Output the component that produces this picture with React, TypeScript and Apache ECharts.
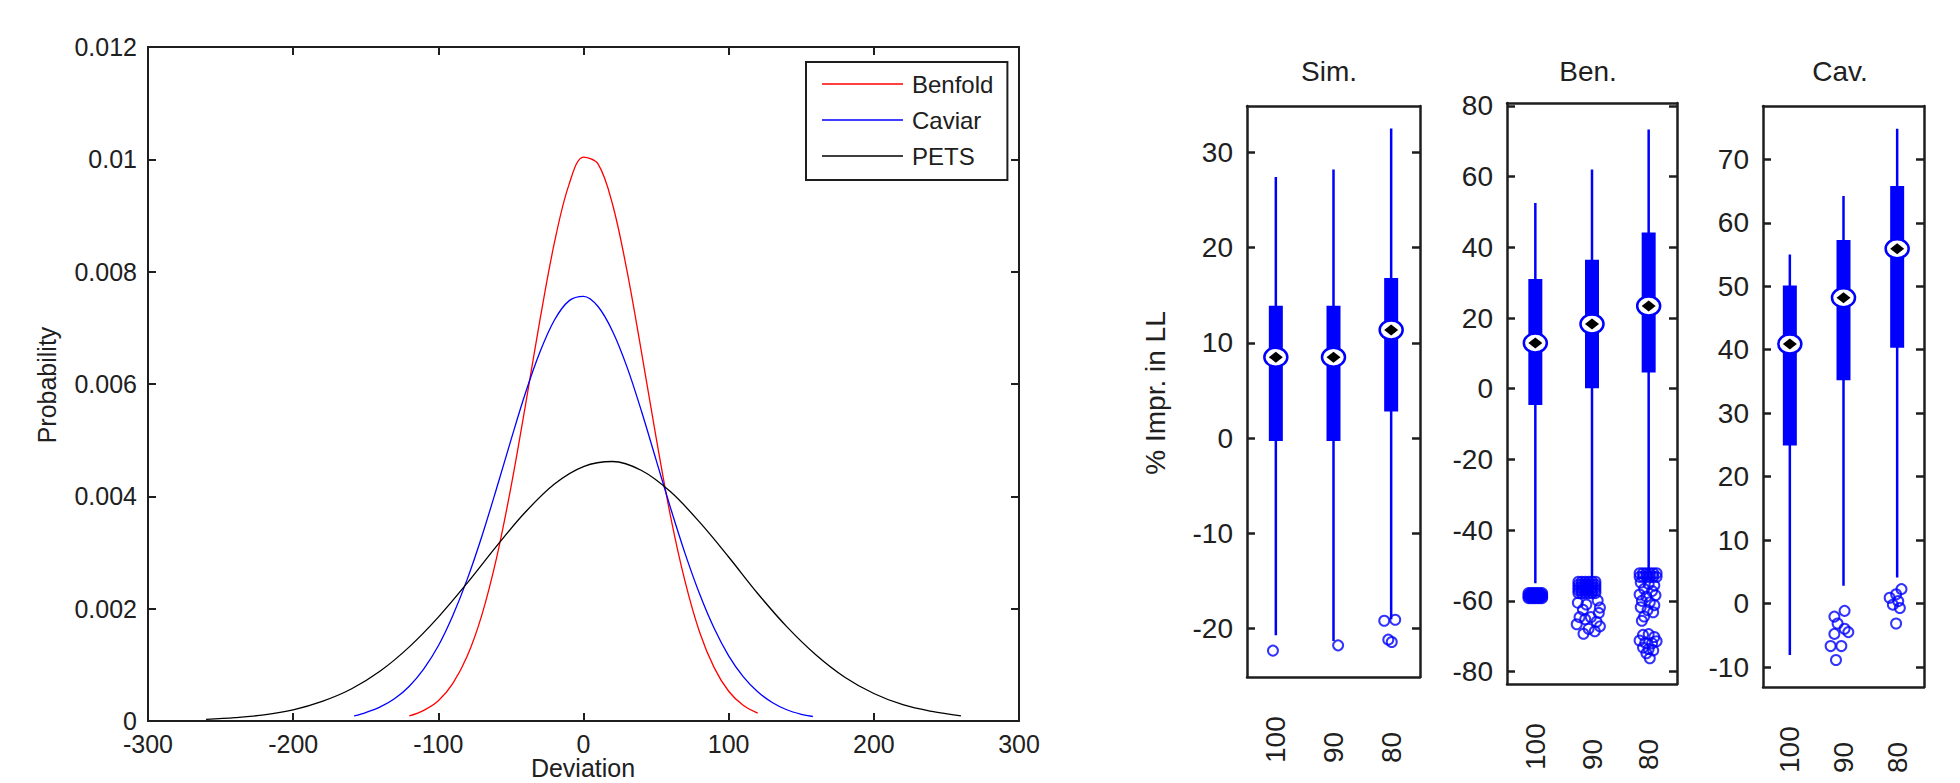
import React, { useEffect, useRef } from 'react';
import * as echarts from 'echarts';

// ---------- Left chart data ----------
const devTicks = [-300, -200, -100, 0, 100, 200, 300];
const probTicks = [0, 0.002, 0.004, 0.006, 0.008, 0.01, 0.012];
const seriesNames = ['Benfold', 'Caviar', 'PETS'];

const benfoldX = [-120, -110, -100, -90, -80, -70, -60, -50, -40, -30, -20, -10, 0, 10, 20, 30, 40, 50, 60, 70, 80, 90, 100, 110, 120];
const benfoldY = [0.00009, 0.00019, 0.00036, 0.00067, 0.00116, 0.00189, 0.00289, 0.00416, 0.00562, 0.00714, 0.00852, 0.00955, 0.01004, 0.00992, 0.0092, 0.00801, 0.00656, 0.00505, 0.00364, 0.00248, 0.00158, 0.00095, 0.00053, 0.00028, 0.00014];

const caviarX = [-158, -150, -140, -130, -120, -110, -100, -90, -80, -70, -60, -50, -40, -30, -20, -10, 0, 10, 20, 30, 40, 50, 60, 70, 80, 90, 100, 110, 120, 130, 140, 150, 158];
const caviarY = [0.00009, 0.00015, 0.00025, 0.0004, 0.00062, 0.00093, 0.00134, 0.00188, 0.00253, 0.00329, 0.00413, 0.005, 0.00584, 0.00657, 0.00714, 0.00748, 0.00756, 0.00738, 0.00694, 0.0063, 0.00551, 0.00465, 0.00379, 0.00298, 0.00226, 0.00165, 0.00116, 0.00079, 0.00052, 0.00033, 0.0002, 0.00012, 0.00008];

const petsX = [-260, -240, -220, -200, -180, -160, -140, -120, -100, -80, -60, -40, -20, 0, 20, 40, 60, 80, 100, 120, 140, 160, 180, 200, 220, 240, 260];
const petsY = [0.00003, 0.00006, 0.00011, 0.0002, 0.00035, 0.00057, 0.00089, 0.00132, 0.00185, 0.00246, 0.00311, 0.00372, 0.00422, 0.00453, 0.00462, 0.00446, 0.00408, 0.00354, 0.00292, 0.00227, 0.00168, 0.00118, 0.00078, 0.00049, 0.00029, 0.00017, 0.00009];

// ---------- Right panels data ----------
const panelTitles = ['Sim.', 'Ben.', 'Cav.'];
const groupLabels = ['100', '90', '80'];

// [whisker low, q1, median, q3, whisker high]
const simBoxes = [
  [-20.7, -0.3, 8.5, 13.9, 27.4],
  [-21.3, -0.3, 8.5, 13.9, 28.2],
  [-19.0, 2.8, 11.35, 16.8, 32.5],
];
const benBoxes = [
  [-55.0, -4.6, 12.9, 31.0, 52.5],
  [-53.5, 0.1, 18.3, 36.5, 62.0],
  [-52.0, 4.6, 23.4, 44.2, 73.3],
];
const cavBoxes = [
  [-8.1, 24.9, 40.9, 50.1, 55.0],
  [2.8, 35.2, 48.2, 57.3, 64.2],
  [4.1, 40.3, 55.9, 65.8, 74.8],
];

// outliers: [group position (with jitter), value]
const simOutliers = [
  [0.95, -22.3], [2.08, -21.75],
  [2.88, -19.16], [3.07, -19.06], [2.95, -21.15], [3.01, -21.4],
];
const benOutliers = [
  // group 100: dense band
  [0.88, -57.8], [0.92, -57.8], [0.96, -57.8], [1.0, -57.8], [1.04, -57.8], [1.08, -57.8], [1.12, -57.8],
  [0.88, -58.3], [0.92, -58.3], [0.96, -58.3], [1.0, -58.3], [1.04, -58.3], [1.08, -58.3], [1.12, -58.3],
  [0.88, -58.8], [0.92, -58.8], [0.96, -58.8], [1.0, -58.8], [1.04, -58.8], [1.08, -58.8], [1.12, -58.8],
  [0.88, -59.2], [0.92, -59.2], [0.96, -59.2], [1.0, -59.2], [1.04, -59.2], [1.08, -59.2], [1.12, -59.2],
  // group 90: dense block + scatter
  [1.76, -54.6], [1.82, -54.6], [1.88, -54.6], [1.94, -54.6], [2.0, -54.6], [2.06, -54.6],
  [1.76, -55.4], [1.82, -55.4], [1.88, -55.4], [1.94, -55.4], [2.0, -55.4], [2.06, -55.4],
  [1.76, -56.2], [1.82, -56.2], [1.88, -56.2], [1.94, -56.2], [2.0, -56.2], [2.06, -56.2],
  [1.76, -57.0], [1.82, -57.0], [1.88, -57.0], [1.94, -57.0], [2.0, -57.0], [2.06, -57.0],
  [1.76, -57.8], [1.82, -57.8], [1.88, -57.8], [1.94, -57.8], [2.0, -57.8], [2.06, -57.8],
  [2.1, -59.9], [2.14, -61.9], [1.75, -60.5], [1.9, -61.0], [1.84, -62.5], [2.12, -63.4],
  [1.78, -64.6], [1.98, -64.6], [2.08, -65.9], [1.73, -66.6], [1.94, -67.9], [2.05, -68.6],
  [1.85, -69.3], [2.14, -67.2], [1.88, -65.2],
  // group 80: top band, scatter, lower cluster
  [2.84, -52.2], [2.9, -52.2], [2.96, -52.2], [3.02, -52.2], [3.08, -52.2], [3.14, -52.2],
  [2.84, -53.2], [2.9, -53.2], [2.96, -53.2], [3.02, -53.2], [3.08, -53.2], [3.14, -53.2],
  [2.86, -54.8], [3.0, -55.2], [3.1, -55.6], [2.92, -56.6], [3.06, -57.2], [2.84, -58.2],
  [2.96, -58.8], [3.12, -58.4], [2.88, -60.0], [3.02, -60.4], [3.1, -61.2], [2.86, -61.8],
  [2.98, -62.6], [3.08, -63.2], [2.92, -64.4], [2.88, -65.6],
  [2.9, -69.6], [3.0, -69.4], [3.1, -70.2], [2.84, -71.2], [2.94, -71.8], [3.06, -72.0],
  [3.14, -71.4], [2.9, -73.2], [3.0, -73.6], [3.08, -74.0], [2.96, -74.8], [3.02, -76.2],
];
const cavOutliers = [
  [2.02, -1.15], [1.83, -2.06], [1.89, -3.15], [2.02, -3.97], [2.09, -4.5],
  [1.83, -4.78], [1.76, -6.7], [1.96, -6.7], [1.86, -8.9],
  [3.08, 2.27], [2.98, 1.46], [2.86, 0.91], [3.02, 0.38], [3.05, -0.71],
  [2.98, -3.15], [2.92, -0.17],
];

const simTicks = [-20, -10, 0, 10, 20, 30];
const benTicks = [-80, -60, -40, -20, 0, 20, 40, 60, 80];
const cavTicks = [-10, 0, 10, 20, 30, 40, 50, 60, 70];
const simRange = [-25.07, 34.86];
const benRange = [-83.5, 80.8];
const cavRange = [-13.15, 78.4];

const FONT = "'Liberation Sans', Arial, Helvetica, sans-serif";
const AXIS = '#1e1e1e';
const TEXT = '#202020';
const BLUE = '#0000ff';

const boxRender = (params: any, api: any) => {
  const x = api.value(0);
  const pLow = api.coord([x, api.value(1)]);
  const pQ1 = api.coord([x, api.value(2)]);
  const pMed = api.coord([x, api.value(3)]);
  const pQ3 = api.coord([x, api.value(4)]);
  const pHigh = api.coord([x, api.value(5)]);
  const cx = pLow[0];
  const my = pMed[1];
  return {
    type: 'group',
    children: [
      { type: 'line', shape: { x1: cx, y1: pHigh[1], x2: cx, y2: pLow[1] }, style: { stroke: BLUE, lineWidth: 2.5 } },
      { type: 'rect', shape: { x: cx - 7, y: pQ3[1], width: 14, height: pQ1[1] - pQ3[1] }, style: { fill: BLUE } },
      { type: 'ellipse', shape: { cx, cy: my, rx: 11.5, ry: 9.5 }, style: { fill: '#ffffff', stroke: BLUE, lineWidth: 2.5 } },
      { type: 'polygon', shape: { points: [[cx - 7, my], [cx, my - 5.5], [cx + 7, my], [cx, my + 5.5]] }, style: { fill: '#000000' } },
    ],
  };
};

export default function App() {
  const ref = useRef<HTMLDivElement>(null);
  useEffect(() => {
    if (!ref.current) return;
    const chart = echarts.init(ref.current, null, { renderer: 'svg' });

    const grids = [
      { left: 148, top: 47, width: 871, height: 674 },
      { left: 1247, top: 106, width: 173, height: 571 },
      { left: 1507, top: 103, width: 170, height: 581 },
      { left: 1763, top: 106, width: 161, height: 581 },
    ];
    const panelBoxes = [simBoxes, benBoxes, cavBoxes];
    const panelOutliers = [simOutliers, benOutliers, cavOutliers];
    const panelTicks = [simTicks, benTicks, cavTicks];
    const panelRanges = [simRange, benRange, cavRange];

    const xAxes: any[] = [
      {
        gridIndex: 0, type: 'value', position: 'bottom', min: -300, max: 300,
        axisLine: { onZero: false, lineStyle: { color: AXIS, width: 2 } },
        axisTick: { inside: true, length: 8, customValues: devTicks, lineStyle: { color: AXIS, width: 2 } },
        axisLabel: { customValues: devTicks, fontSize: 25, fontFamily: FONT, color: TEXT, margin: 10 },
        splitLine: { show: false },
      },
      {
        gridIndex: 0, type: 'value', position: 'top', min: -300, max: 300,
        axisLine: { onZero: false, lineStyle: { color: AXIS, width: 2 } },
        axisTick: { inside: true, length: 8, customValues: devTicks, lineStyle: { color: AXIS, width: 2 } },
        axisLabel: { show: false },
        splitLine: { show: false },
      },
    ];
    const yAxes: any[] = [
      {
        gridIndex: 0, type: 'value', position: 'left', min: 0, max: 0.012,
        axisLine: { onZero: false, lineStyle: { color: AXIS, width: 2 } },
        axisTick: { inside: true, length: 8, customValues: probTicks, lineStyle: { color: AXIS, width: 2 } },
        axisLabel: { customValues: probTicks, fontSize: 25, fontFamily: FONT, color: TEXT, margin: 11, formatter: (v: number) => String(+v.toFixed(4)) },
        splitLine: { show: false },
      },
      {
        gridIndex: 0, type: 'value', position: 'right', min: 0, max: 0.012,
        axisLine: { onZero: false, lineStyle: { color: AXIS, width: 2 } },
        axisTick: { inside: true, length: 8, customValues: probTicks, lineStyle: { color: AXIS, width: 2 } },
        axisLabel: { show: false },
        splitLine: { show: false },
      },
    ];

    const lineCommon = { type: 'line', xAxisIndex: 0, yAxisIndex: 0, symbol: 'none', smooth: 0.35, silent: true };
    const series: any[] = [
      { ...lineCommon, name: seriesNames[0], lineStyle: { color: '#ff0000', width: 1.3 }, itemStyle: { color: '#ff0000' }, data: benfoldX.map((x, i) => [x, benfoldY[i]]) },
      { ...lineCommon, name: seriesNames[1], lineStyle: { color: '#0000ff', width: 1.3 }, itemStyle: { color: '#0000ff' }, data: caviarX.map((x, i) => [x, caviarY[i]]) },
      { ...lineCommon, name: seriesNames[2], lineStyle: { color: '#000000', width: 1.3 }, itemStyle: { color: '#000000' }, data: petsX.map((x, i) => [x, petsY[i]]) },
    ];

    for (let p = 0; p < 3; p++) {
      const g = p + 1;
      xAxes.push({
        gridIndex: g, type: 'value', position: 'bottom', min: 0.5, max: 3.5,
        axisLine: { onZero: false, lineStyle: { color: AXIS, width: 2.5 } },
        axisTick: { show: false },
        axisLabel: {
          customValues: [1, 2, 3],
          formatter: (v: number) => groupLabels[Math.round(v) - 1],
          rotate: 90, align: 'left', verticalAlign: 'middle', margin: 86,
          fontSize: 28, fontFamily: FONT, color: TEXT,
        },
        splitLine: { show: false },
      });
      xAxes.push({
        gridIndex: g, type: 'value', position: 'top', min: 0.5, max: 3.5,
        axisLine: { onZero: false, lineStyle: { color: AXIS, width: 2.5 } },
        axisTick: { show: false }, axisLabel: { show: false }, splitLine: { show: false },
      });
      const ticks = panelTicks[p];
      const range = panelRanges[p];
      yAxes.push({
        gridIndex: g, type: 'value', position: 'left', min: range[0], max: range[1],
        axisLine: { onZero: false, lineStyle: { color: AXIS, width: 2.5 } },
        axisTick: { inside: true, length: 8, customValues: ticks, lineStyle: { color: AXIS, width: 2.5 } },
        axisLabel: { customValues: ticks, fontSize: 28, fontFamily: FONT, color: TEXT, margin: 14 },
        splitLine: { show: false },
      });
      yAxes.push({
        gridIndex: g, type: 'value', position: 'right', min: range[0], max: range[1],
        axisLine: { onZero: false, lineStyle: { color: AXIS, width: 2.5 } },
        axisTick: { inside: true, length: 8, customValues: ticks, lineStyle: { color: AXIS, width: 2.5 } },
        axisLabel: { show: false },
        splitLine: { show: false },
      });
      series.push({
        type: 'custom', xAxisIndex: 2 * g, yAxisIndex: 2 * g,
        renderItem: boxRender,
        encode: { x: 0, y: [1, 2, 3, 4, 5] },
        data: panelBoxes[p].map((b, i) => [i + 1, ...b]),
        silent: true,
      });
      series.push({
        type: 'scatter', xAxisIndex: 2 * g, yAxisIndex: 2 * g,
        symbol: 'circle', symbolSize: 10,
        itemStyle: { color: 'rgba(255,255,255,0)', borderColor: BLUE, borderWidth: 2 },
        data: panelOutliers[p],
        silent: true,
      });
    }

    const titleCenters = [1329, 1588, 1840];
    const graphic: any[] = [
      { type: 'text', x: 583, y: 768, style: { text: 'Deviation', fontSize: 25, fontFamily: FONT, fill: TEXT, align: 'center', verticalAlign: 'middle' } },
      { type: 'text', x: 47, y: 385, rotation: Math.PI / 2, style: { text: 'Probability', fontSize: 25, fontFamily: FONT, fill: TEXT, align: 'center', verticalAlign: 'middle' } },
      { type: 'text', x: 1155, y: 393, rotation: Math.PI / 2, style: { text: '% Impr. in LL', fontSize: 28, fontFamily: FONT, fill: TEXT, align: 'center', verticalAlign: 'middle' } },
      ...panelTitles.map((t, i) => ({ type: 'text', x: titleCenters[i], y: 71, style: { text: t, fontSize: 28, fontFamily: FONT, fill: TEXT, align: 'center', verticalAlign: 'middle' } })),
    ];

    chart.setOption({
      animation: false,
      backgroundColor: '#ffffff',
      grid: grids,
      xAxis: xAxes,
      yAxis: yAxes,
      legend: {
        data: seriesNames,
        orient: 'vertical',
        left: 806,
        top: 62,
        icon: 'rect',
        itemWidth: 81,
        itemHeight: 1.6,
        itemGap: 10,
        padding: [9, 14, 11, 16],
        borderColor: AXIS,
        borderWidth: 2,
        backgroundColor: '#ffffff',
        selectedMode: false,
        textStyle: { fontSize: 24, fontFamily: FONT, color: TEXT, lineHeight: 26, padding: [0, 0, 0, 4] },
      },
      graphic,
      series,
    });
    return () => chart.dispose();
  }, []);
  return <div ref={ref} style={{ position: 'absolute', left: 0, top: 0, width: 1960, height: 783 }} />;
}
